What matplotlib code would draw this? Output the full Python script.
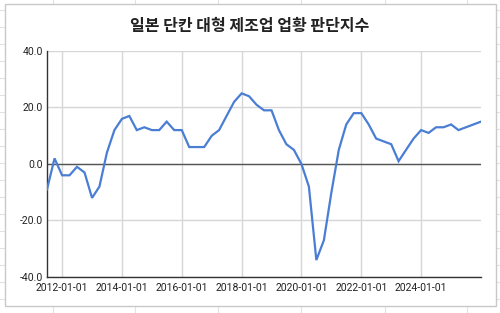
import matplotlib
matplotlib.use("Agg")
import matplotlib.pyplot as plt
import matplotlib.dates as mdates
import pandas as pd
from matplotlib.patches import Rectangle
from matplotlib.lines import Line2D

plt.rcParams['font.family'] = ['Noto Sans CJK KR', 'DejaVu Sans']

title = "일본 단칸 대형 제조업 업황 판단지수"
start_date = "2011-07-01"
values = [-9, 2, -4, -4, -1, -3, -12, -8, 4, 12, 16, 17, 12, 13, 12, 12, 15, 12, 12,
          6, 6, 6, 10, 12, 17, 22, 25, 24, 21, 19, 19, 12, 7, 5, 0, -8, -34, -27, -10,
          5, 14, 18, 18, 14, 9, 8, 7, 1, 5, 9, 12, 11, 13, 13, 14, 12, 13, 14, 15]
dates = pd.date_range(start_date, periods=len(values), freq="QS")
xtick_dates = pd.to_datetime(["2012-01-01", "2014-01-01", "2016-01-01", "2018-01-01",
                              "2020-01-01", "2022-01-01", "2024-01-01"])
yticks = [-40, -20, 0, 20, 40]

fig = plt.figure(figsize=(5, 3.13), dpi=100)
fig.patch.set_facecolor("white")

# spreadsheet background cells
W, H = 500, 313
for xv in [53, 135, 218, 301, 385, 467]:
    fig.add_artist(Line2D([xv / W, xv / W], [0, 1], color="#e2e2e2", lw=0.8, zorder=-2))
for yv in range(10, 313, 17):
    fig.add_artist(Line2D([0, 1], [1 - yv / H, 1 - yv / H], color="#e2e2e2", lw=0.8, zorder=-2))
# chart box
fig.add_artist(Rectangle((5 / W, 1 - 306 / H), 491 / W, 302 / H, facecolor="white",
                         edgecolor="#c8c8c8", lw=1.0, zorder=-1))

ax = fig.add_axes([47 / W, 1 - 277 / H, 434 / W, 226 / H])
ax.set_zorder(2)
ax.set_facecolor("none")
ax.plot(dates, values, color="#4a7ed4", lw=1.6, zorder=3, solid_joinstyle="miter")

ax.set_xlim(dates[0], dates[-1])
ax.set_ylim(-40, 40)
ax.set_yticks(yticks)
ax.set_yticklabels([f"{v:.1f}" for v in yticks])
ax.set_xticks(xtick_dates)
ax.xaxis.set_major_formatter(mdates.DateFormatter("%Y-%m-%d"))
ax.grid(True, color="#d6d6d6", lw=1.0)
ax.axhline(0, color="#555555", lw=1.0, zorder=2)
for s in ["top", "right"]:
    ax.spines[s].set_visible(False)
for s in ["left", "bottom"]:
    ax.spines[s].set_color("#333333")
    ax.spines[s].set_linewidth(1.0)
ax.tick_params(axis="both", length=0, labelsize=7.5, colors="#222222", pad=3)
ax.tick_params(axis="x", pad=4)
for lbl in ax.get_xticklabels() + ax.get_yticklabels():
    lbl.set_family(['Roboto', 'DejaVu Sans'])

fig.text(0.5, 1 - 26 / H, title, ha="center", va="center", fontsize=11.5,
         fontweight="bold", color="#222222", zorder=3)

fig.savefig("out.png", dpi=100)
